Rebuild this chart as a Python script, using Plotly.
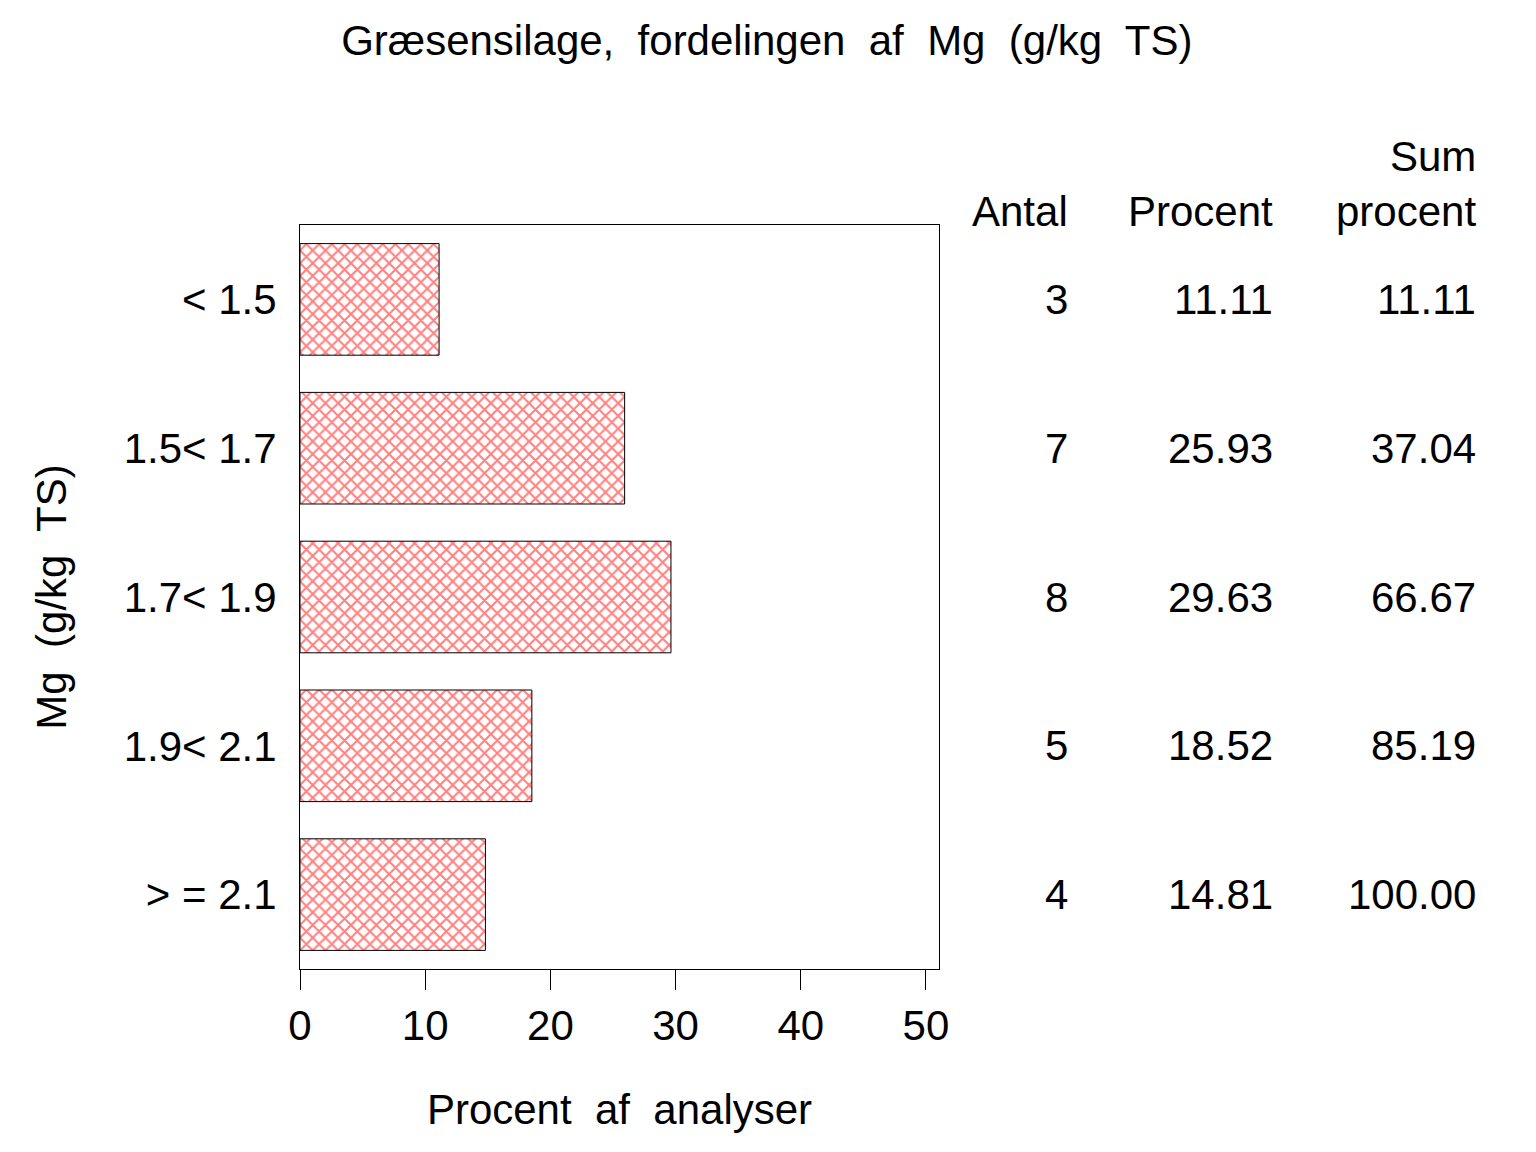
import plotly.graph_objects as go

# data
classes = ["< 1.5", "1.5< 1.7", "1.7< 1.9", "1.9< 2.1", "> = 2.1"]
antal = [3, 7, 8, 5, 4]
procent = [11.11, 25.93, 29.63, 18.52, 14.81]
sum_procent = [11.11, 37.04, 66.67, 85.19, 100.00]
x_ticks = [0, 10, 20, 30, 40, 50]

FONT = "Liberation Sans"

fig = go.Figure()

fig.add_trace(
    go.Bar(
        x=procent,
        y=classes,
        orientation="h",
        width=0.75,
        marker=dict(
            color="white",
            line=dict(color="black", width=1),
            pattern=dict(shape="x", fgcolor="red", bgcolor="white", size=9, solidity=0.4),
        ),
        showlegend=False,
    )
)

# table at the right, one row per class
col_x = [1.2050, 1.5258, 1.8435]
columns = [
    [str(a) for a in antal],
    [f"{p:.2f}" for p in procent],
    [f"{s:.2f}" for s in sum_procent],
]
annotations = []
for cx, col in zip(col_x, columns):
    for cat, txt in zip(classes, col):
        annotations.append(
            dict(x=cx, xref="paper", y=cat, yref="y", text=txt, showarrow=False,
                 xanchor="right", yanchor="middle", font=dict(size=42, family=FONT, color="black"))
        )

headers = [(col_x[0], 1.0188, "Antal"), (col_x[1], 1.0188, "Procent"),
           (col_x[2], 1.0188, "procent"), (col_x[2], 1.0914, "Sum")]
for hx, hy, txt in headers:
    annotations.append(
        dict(x=hx, xref="paper", y=hy, yref="paper", text=txt, showarrow=False,
             xanchor="right", yanchor="middle", font=dict(size=42, family=FONT, color="black"))
    )

fig.update_layout(
    width=1536,
    height=1152,
    margin=dict(l=292, r=605, t=217, b=191),
    paper_bgcolor="white",
    plot_bgcolor="white",
    font=dict(family=FONT, size=42, color="black"),
    title=dict(
        text="Græsensilage,  fordelingen  af  Mg  (g/kg  TS)",
        x=0.494, xref="container", xanchor="center",
        y=0.972, yref="container", yanchor="middle",
        font=dict(size=42, family=FONT),
    ),
    xaxis=dict(
        range=[0, 51.04],
        tickvals=x_ticks,
        ticks="outside",
        ticklen=20,
        tickcolor="black",
        showline=True,
        linecolor="black",
        linewidth=1,
        mirror=True,
        showgrid=False,
        zeroline=False,
        title=dict(text="Procent  af  analyser", standoff=46, font=dict(size=42, family=FONT)),
    ),
    yaxis=dict(
        autorange="reversed",
        showline=True,
        linecolor="black",
        linewidth=1,
        mirror=True,
        showgrid=False,
        ticks="",
        ticklabelstandoff=14,
        title=dict(text="Mg  (g/kg  TS)", standoff=43, font=dict(size=42, family=FONT)),
    ),
    annotations=annotations,
)

fig.write_html("out.html")
